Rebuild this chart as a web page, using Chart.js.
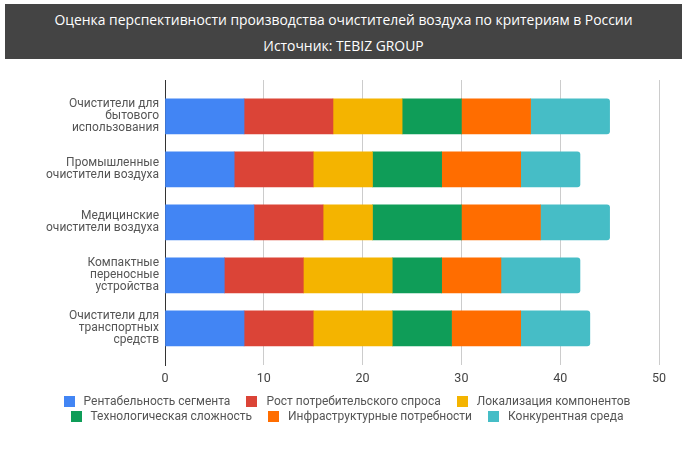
<!DOCTYPE html>
<html>
<head>
<meta charset="utf-8">
<script src="https://cdn.jsdelivr.net/npm/chart.js@4"></script>
<style>
  html, body { margin: 0; padding: 0; background: #fff; }
  #wrap { position: relative; width: 686px; height: 450px; overflow: hidden; font-family: Roboto, sans-serif; }
  #head { position: absolute; left: 5px; top: 4px; width: 677px; height: 55px; background: #444444; color: #fff;
          font-family: 'Open Sans', sans-serif; font-weight: 400; font-size: 13.9px; text-align: center; }
  #head .t1 { position: absolute; left: 0; right: 0; top: 6px; }
  #head .t2 { position: absolute; left: 0; right: 0; top: 32px; }
  #chartBox { position: absolute; left: 0; top: 0; width: 686px; height: 450px; }
  #legend { position: absolute; left: 4px; top: 394px; width: 686px; font-size: 12px; color: #555; }
  .lrow { display: flex; justify-content: center; height: 15px; line-height: 15px; }
  .litem { display: flex; align-items: center; margin: 0 8px; white-space: nowrap; }
  .lbox { width: 11px; height: 11px; margin-right: 9px; }
</style>
</head>
<body>
<div id="wrap">
  <div id="chartBox"><canvas id="chart"></canvas></div>
  <div id="head">
    <div class="t1">Оценка перспективности производства очистителей воздуха по критериям в России</div>
    <div class="t2">Источник: TEBIZ GROUP</div>
  </div>
  <div id="legend"></div>
</div>
<script>
// categories (top to bottom)
const categories = [
    ['Очистители для', 'бытового', 'использования'],
    ['Промышленные', 'очистители воздуха'],
    ['Медицинские', 'очистители воздуха'],
    ['Компактные', 'переносные', 'устройства'],
    ['Очистители для', 'транспортных', 'средств']
];

const seriesNames = [
    'Рентабельность сегмента',
    'Рост потребительского спроса',
    'Локализация компонентов',
    'Технологическая сложность',
    'Инфраструктурные потребности',
    'Конкурентная среда'
];
const seriesColors = ['#4285F4', '#DB4437', '#F4B400', '#0F9D58', '#FF6D00', '#46BDC6'];

// values per series, one per category
const profitability = [8, 7, 9, 6, 8];
const demandGrowth  = [9, 8, 7, 8, 7];
const localization  = [7, 6, 5, 9, 8];
const techComplexity = [6, 7, 9, 5, 6];
const infraNeeds    = [7, 8, 8, 6, 7];
const competition   = [8, 6, 7, 8, 7];

const xTicks = [0, 10, 20, 30, 40, 50];

const seriesValues = [profitability, demandGrowth, localization, techComplexity, infraNeeds, competition];

const datasets = seriesValues.map((vals, s) => ({
    label: seriesNames[s],
    data: vals.map((v, i) => ({ x: v, y: i })),
    backgroundColor: seriesColors[s],
    borderWidth: 0,
    borderRadius: s === seriesValues.length - 1 ? 3 : 0,
    borderSkipped: 'start',
    barThickness: 35
}));

new Chart(document.getElementById('chart'), {
    type: 'bar',
    data: { datasets },
    options: {
        indexAxis: 'y',
        responsive: true,
        maintainAspectRatio: false,
        animation: false,
        layout: { padding: { top: 80, right: 27, left: 0, bottom: 0 } },
        plugins: { legend: { display: false }, tooltip: { enabled: false } },
        scales: {
            x: {
                type: 'linear',
                stacked: true,
                min: xTicks[0],
                max: xTicks[xTicks.length - 1],
                afterBuildTicks: (s) => { s.ticks = xTicks.map(v => ({ value: v })); },
                grid: { color: '#cccccc', drawTicks: false },
                border: { display: false },
                ticks: { color: '#444', padding: 6, font: { family: 'Roboto', size: 12.5 } },
                afterFit: (s) => { s.height = 85; }
            },
            y: {
                type: 'linear',
                stacked: true,
                reverse: true,
                offset: false,
                min: -0.685,
                max: 4.69,
                afterBuildTicks: (s) => { s.ticks = categories.map((c, i) => ({ value: i })); },
                grid: { display: false, drawTicks: false, offset: false },
                border: { display: true, color: '#333', width: 1 },
                ticks: {
                    color: '#555',
                    padding: 6,
                    font: { family: 'Roboto', size: 12, lineHeight: 1 },
                    callback: (v) => categories[v]
                },
                afterFit: (s) => {
                    s.width = 165;
                    s.paddingTop = 0;
                    s.paddingBottom = 0;
                }
            }
        }
    }
});

// html legend, 3 items per row
const legend = document.getElementById('legend');
[[0, 1, 2], [3, 4, 5]].forEach(row => {
    const r = document.createElement('div');
    r.className = 'lrow';
    row.forEach(s => {
        const it = document.createElement('div');
        it.className = 'litem';
        it.innerHTML = `<span class="lbox" style="background:${seriesColors[s]}"></span><span>${seriesNames[s]}</span>`;
        r.appendChild(it);
    });
    legend.appendChild(r);
});
</script>
</body>
</html>
